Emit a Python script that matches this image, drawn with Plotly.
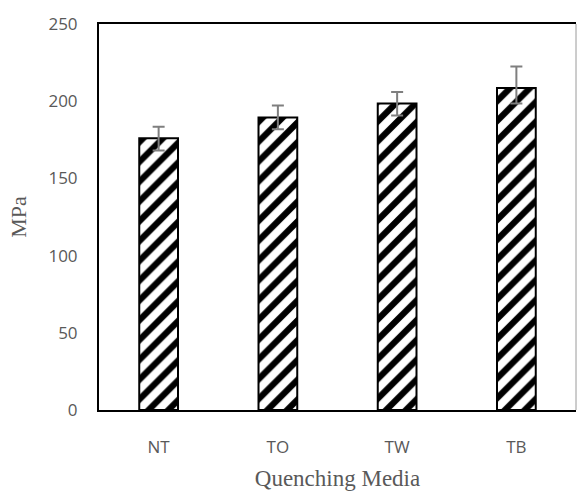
import plotly.graph_objects as go

categories = ["NT", "TO", "TW", "TB"]
values = [176, 189.5, 198.5, 208.5]
err_plus = [7.5, 7.7, 7.5, 14]
err_minus = [8, 7.7, 7.8, 10]
y_ticks = [0, 50, 100, 150, 200, 250]

fig = go.Figure()
fig.add_trace(go.Bar(
    x=categories, y=values, width=0.325,
    marker=dict(color="white", line=dict(color="black", width=2),
                pattern=dict(shape="/", fgcolor="black", bgcolor="white",
                             size=14, solidity=0.45, fillmode="replace")),
    error_y=dict(type="data", array=err_plus, arrayminus=err_minus, symmetric=False,
                 color="#7f7f7f", thickness=2, width=6),
))

fig.update_layout(
    width=577, height=491,
    margin=dict(l=99, r=1, t=24, b=81),
    plot_bgcolor="white", paper_bgcolor="white",
    showlegend=False,
    xaxis=dict(showline=True, linecolor="black", linewidth=2, mirror=True,
               showgrid=False, ticks="", ticklabelstandoff=21,
               tickfont=dict(family="Open Sans", size=17, color="#595959"),
               title=dict(text="Quenching Media", standoff=12,
                          font=dict(family="Liberation Serif", size=23, color="#595959"))),
    yaxis=dict(range=[0, 250], tickvals=y_ticks, showline=True, linecolor="black",
               linewidth=2, mirror=False, showgrid=False, zeroline=False, ticks="",
               ticklabelstandoff=16,
               tickfont=dict(family="Open Sans", size=17, color="#595959"),
               title=dict(text="MPa", standoff=16,
                          font=dict(family="Liberation Serif", size=22, color="#595959"))),
    shapes=[dict(type="line", xref="paper", yref="paper", x0=1, x1=1, y0=0, y1=1,
                 line=dict(color="#9a9a9a", width=1))],
)

fig.write_html("out.html", config={"displayModeBar": False})

with open("out.html", encoding="utf-8") as f:
    html = f.read()
html = html.replace("<body>", '<body style="margin:0;padding:0;overflow:hidden">', 1)
with open("out.html", "w", encoding="utf-8") as f:
    f.write(html)
